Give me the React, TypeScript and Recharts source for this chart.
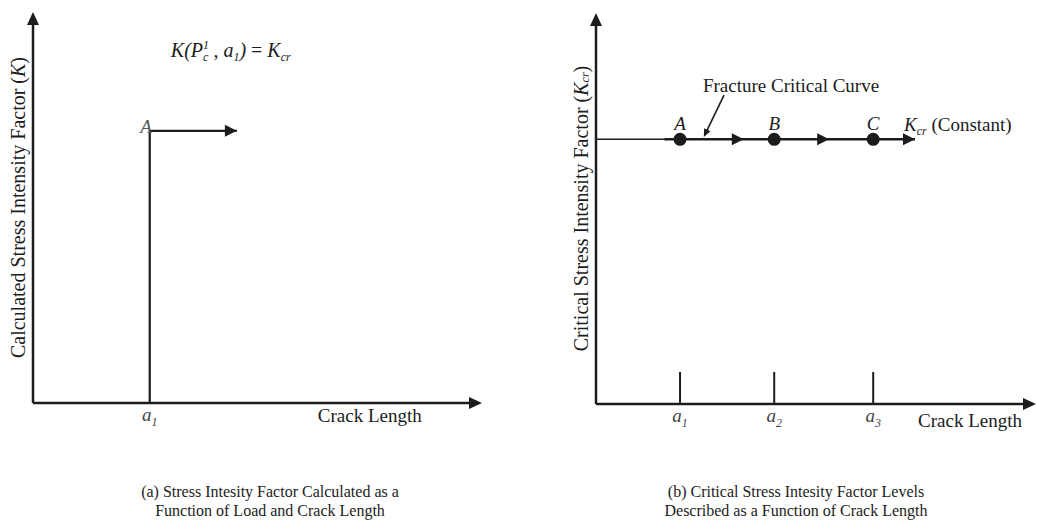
import React from "react";
import {
  LineChart,
  Line,
  XAxis,
  YAxis,
  ReferenceLine,
  ReferenceDot,
  Label,
} from "recharts";

const INK = "#1c1c1c";
const FONT = "'Liberation Serif', 'Times New Roman', serif";
const AXIS_MAX = 10;

// (a) calculated K against crack length
const aCrack = [2.6]; // a1
const aKLevel = 6.96; // K(Pc1, a1) = Kcr
const aLoadArrowEnd = 4.54;

// (b) critical K levels
const bCrack = [1.91, 4.05, 6.3]; // a1, a2, a3
const bPointNames = ["A", "B", "C"];
const bKcr = 6.77;
const bArrowTips = [3.36, 5.3, 7.25];
const bLeadEnd = 1.55;
const bTickHeight = 0.82;
const bPointer = [
  { x: 2.91, y: 7.9 },
  { x: 2.45, y: 6.83 },
];

const aPath = [
  { crack: aCrack[0], k: 0 },
  { crack: aCrack[0], k: aKLevel },
  { crack: aLoadArrowEnd, k: aKLevel, mark: "arrow" },
];

const bLead = [
  { crack: 0, k: bKcr },
  { crack: bLeadEnd, k: bKcr },
];

const bCurve = [
  { crack: bLeadEnd, k: bKcr },
  ...bCrack.map((c, i) => ({ crack: c, k: bKcr, mark: "dot", name: bPointNames[i] })),
  ...bArrowTips.map((c) => ({ crack: c, k: bKcr, mark: "arrow" })),
].sort((p, q) => p.crack - q.crack);

// text notes, placed in data units (y = baseline)
const aNotes = [
  { x: 2.52, y: 6.9, kind: "A" },
  { x: 3.07, y: 8.85, kind: "formula" },
  { x: 7.5, y: -0.49, kind: "crack" },
];
const bNotes = [
  { x: 2.43, y: 7.98, kind: "fcc" },
  { x: 7.0, y: 6.98, kind: "kcr" },
  { x: 8.5, y: -0.59, kind: "crack" },
];

const textStyle = { fontFamily: FONT, fontSize: 19, fill: INK };

function arrowShape(head: number, half: number, width: number) {
  return (props: any) => {
    const { x1, y1, x2, y2 } = props;
    const dx = x2 - x1;
    const dy = y2 - y1;
    const len = Math.hypot(dx, dy) || 1;
    const ux = dx / len;
    const uy = dy / len;
    const bx = x2 - ux * head;
    const by = y2 - uy * head;
    const px = -uy * half;
    const py = ux * half;
    return (
      <g>
        <line x1={x1} y1={y1} x2={bx + ux} y2={by + uy} stroke={INK} strokeWidth={width} />
        <polygon
          points={`${x2},${y2} ${bx + px},${by + py} ${bx - px},${by - py}`}
          fill={INK}
        />
      </g>
    );
  };
}

function renderMark(props: any) {
  const { cx, cy, payload, index } = props;
  if (payload.mark === "arrow") {
    return (
      <polygon
        key={`m-${index}`}
        points={`${cx},${cy} ${cx - 12},${cy - 6} ${cx - 12},${cy + 6}`}
        fill={INK}
      />
    );
  }
  if (payload.mark === "dot") {
    return (
      <g key={`m-${index}`}>
        <circle cx={cx} cy={cy} r={6.5} fill={INK} />
        <text x={cx} y={cy - 9} textAnchor="middle" fontStyle="italic" {...textStyle}>
          {payload.name}
        </text>
      </g>
    );
  }
  return <g key={`m-${index}`} />;
}

function noteText(kind: string, x: number, y: number) {
  switch (kind) {
    case "A":
      return (
        <text x={x} y={y} textAnchor="middle" fontStyle="italic" {...textStyle} fill="#555">
          A
        </text>
      );
    case "formula":
      return (
        <text x={x} y={y} fontStyle="italic" {...textStyle} fontSize={20}>
          K(P
          <tspan fontSize={12} dy={-8}>1</tspan>
          <tspan fontSize={12} dx={-6} dy={12}>c</tspan>
          <tspan dy={-4}> , a</tspan>
          <tspan fontSize={12} dy={4}>1</tspan>
          <tspan dy={-4}>) </tspan>
          <tspan fontStyle="normal">= </tspan>
          K
          <tspan fontSize={12} dy={4}>cr</tspan>
        </text>
      );
    case "crack":
      return (
        <text x={x} y={y} textAnchor="middle" {...textStyle}>
          Crack Length
        </text>
      );
    case "fcc":
      return (
        <text x={x} y={y} {...textStyle}>
          Fracture Critical Curve
        </text>
      );
    case "kcr":
      return (
        <text x={x} y={y} {...textStyle}>
          <tspan fontStyle="italic">K</tspan>
          <tspan fontSize={12} fontStyle="italic" dy={4}>cr</tspan>
          <tspan dy={-4}> (Constant)</tspan>
        </text>
      );
    default:
      return null;
  }
}

function renderNote(n: { x: number; y: number; kind: string }, i: number) {
  return (
    <ReferenceDot
      key={`n-${i}`}
      x={n.x}
      y={n.y}
      r={0}
      fill="none"
      stroke="none"
      ifOverflow="visible"
      label={(p: any) => noteText(n.kind, p.viewBox.x, p.viewBox.y)}
    />
  );
}

function crackTick(crack: number[]) {
  return (props: any) => {
    const { x, y, payload } = props;
    const n = crack.indexOf(payload.value) + 1;
    return (
      <text x={x} y={y + 10} textAnchor="middle" fontStyle="italic" {...textStyle} fill="#444">
        a<tspan fontSize={12} dy={5}>{n}</tspan>
      </text>
    );
  };
}

function yTitle(title: string, sub?: string) {
  return (p: any) => {
    const { x, y, width, height } = p.viewBox;
    const cx = x + width - 15;
    const cy = y + height / 2;
    return (
      <text
        x={cx}
        y={cy}
        transform={`rotate(-90 ${cx} ${cy})`}
        textAnchor="middle"
        dominantBaseline="central"
        {...textStyle}
        fontSize={20}
      >
        {title} (<tspan fontStyle="italic">K</tspan>
        {sub && (
          <tspan fontSize={12} fontStyle="italic" dy={4}>
            {sub}
          </tspan>
        )}
        <tspan dy={sub ? -4 : 0}>)</tspan>
      </text>
    );
  };
}

const axisArrow = arrowShape(13, 6, 2.5);
const lineArrow = arrowShape(8, 3.5, 1.6);

export default function App() {
  return (
    <div
      style={{
        position: "absolute",
        left: 0,
        top: 0,
        width: 1037,
        height: 531,
        background: "#fff",
        fontFamily: FONT,
      }}
    >
      <div style={{ position: "absolute", left: 0, top: 0 }}>
        <LineChart width={518} height={531} margin={{ top: 12, right: 36, bottom: 98, left: 32 }}>
          <XAxis
            type="number"
            dataKey="crack"
            domain={[0, AXIS_MAX]}
            ticks={aCrack}
            interval={0}
            height={30}
            axisLine={false}
            tickLine={false}
            tick={crackTick(aCrack)}
          />
          <YAxis
            type="number"
            domain={[0, AXIS_MAX]}
            width={1}
            tick={false}
            axisLine={false}
            tickLine={false}
          >
            <Label content={yTitle("Calculated Stress Intensity Factor")} />
          </YAxis>
          <ReferenceLine
            segment={[{ x: 0, y: 0 }, { x: AXIS_MAX, y: 0 }]}
            ifOverflow="visible"
            shape={axisArrow}
          />
          <ReferenceLine
            segment={[{ x: 0, y: 0 }, { x: 0, y: AXIS_MAX }]}
            ifOverflow="visible"
            shape={axisArrow}
          />
          <Line
            data={aPath}
            dataKey="k"
            type="linear"
            stroke={INK}
            strokeWidth={2.2}
            dot={renderMark}
            activeDot={false}
            isAnimationActive={false}
          />
          {aNotes.map(renderNote)}
        </LineChart>
      </div>

      <div style={{ position: "absolute", left: 518, top: 0 }}>
        <LineChart width={519} height={531} margin={{ top: 13, right: 1, bottom: 97, left: 77 }}>
          <XAxis
            type="number"
            dataKey="crack"
            domain={[0, AXIS_MAX]}
            ticks={bCrack}
            interval={0}
            height={30}
            axisLine={false}
            tickLine={false}
            tick={crackTick(bCrack)}
          />
          <YAxis
            type="number"
            domain={[0, AXIS_MAX]}
            width={1}
            tick={false}
            axisLine={false}
            tickLine={false}
          >
            <Label content={yTitle("Critical Stress Intensity Factor", "cr")} />
          </YAxis>
          <ReferenceLine
            segment={[{ x: 0, y: 0 }, { x: AXIS_MAX, y: 0 }]}
            ifOverflow="visible"
            shape={axisArrow}
          />
          <ReferenceLine
            segment={[{ x: 0, y: 0 }, { x: 0, y: AXIS_MAX }]}
            ifOverflow="visible"
            shape={axisArrow}
          />
          {bCrack.map((c) => (
            <ReferenceLine
              key={c}
              segment={[{ x: c, y: 0 }, { x: c, y: bTickHeight }]}
              ifOverflow="visible"
              stroke={INK}
              strokeWidth={2}
            />
          ))}
          <ReferenceLine segment={bPointer} ifOverflow="visible" shape={lineArrow} />
          <Line
            data={bLead}
            dataKey="k"
            type="linear"
            stroke={INK}
            strokeWidth={1.5}
            dot={false}
            activeDot={false}
            isAnimationActive={false}
          />
          <Line
            data={bCurve}
            dataKey="k"
            type="linear"
            stroke={INK}
            strokeWidth={2.5}
            dot={renderMark}
            activeDot={false}
            isAnimationActive={false}
          />
          {bNotes.map(renderNote)}
        </LineChart>
      </div>

      <div
        style={{
          position: "absolute",
          left: 70,
          top: 482,
          width: 400,
          textAlign: "center",
          fontSize: 16,
          lineHeight: "19px",
          color: INK,
        }}
      >
        (a) Stress Intesity Factor Calculated as a
        <br />
        Function of Load and Crack Length
      </div>
      <div
        style={{
          position: "absolute",
          left: 596,
          top: 482,
          width: 400,
          textAlign: "center",
          fontSize: 16,
          lineHeight: "19px",
          color: INK,
        }}
      >
        (b) Critical Stress Intesity Factor Levels
        <br />
        Described as a Function of Crack Length
      </div>
    </div>
  );
}
